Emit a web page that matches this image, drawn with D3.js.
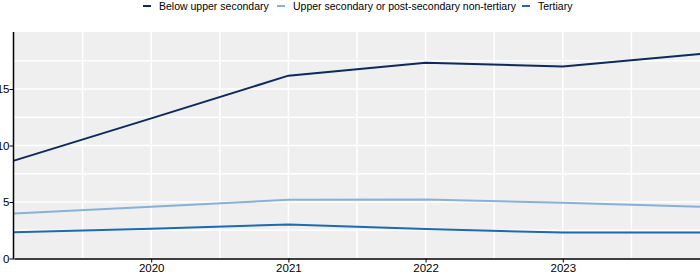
<!DOCTYPE html>
<html>
<head>
<meta charset="utf-8">
<script src="https://cdn.jsdelivr.net/npm/d3@7"></script>
<style>
  html, body { margin: 0; padding: 0; background: #fff; }
  svg { display: block; font-family: "Liberation Sans", Arial, sans-serif; }
</style>
</head>
<body>
<svg id="chart" width="700" height="272"></svg>
<script>
const years = [2019, 2020, 2021, 2022, 2023, 2024];
const seriesNames = ["Below upper secondary", "Upper secondary or post-secondary non-tertiary", "Tertiary"];
const belowUpperSecondary = [8.66, 12.4, 16.18, 17.33, 17.0, 18.1];
const upperSecondary = [3.99, 4.58, 5.2, 5.22, 4.93, 4.58];
const tertiary = [2.32, 2.64, 3.0, 2.62, 2.29, 2.29];
const xTickLabels = [2020, 2021, 2022, 2023];
const yTickLabels = [0, 5, 10, 15];
const yGridValues = [2.5, 5, 7.5, 10, 12.5, 15, 17.5];
const xGridValues = [2019.5, 2020, 2020.5, 2021, 2021.5, 2022, 2022.5, 2023, 2023.5];
const colors = ["#0c2a5e", "#88b0dd", "#1c6ab1"];

const series = [belowUpperSecondary, upperSecondary, tertiary];

const svg = d3.select("#chart");
const mLeft = 14, mRight = 700, mTop = 32, mBottom = 258.5;

const x = d3.scaleLinear().domain([2019, 2024]).range([mLeft, mRight]);
const y = d3.scaleLinear().domain([0, 20]).range([mBottom, mTop + 0.5]);

// background
svg.append("rect")
  .attr("x", mLeft).attr("y", mTop)
  .attr("width", mRight - mLeft).attr("height", mBottom - mTop)
  .attr("fill", "#efefef");

// grid
svg.append("g").selectAll("line").data(yGridValues).join("line")
  .attr("x1", mLeft).attr("x2", mRight)
  .attr("y1", d => y(d)).attr("y2", d => y(d))
  .attr("stroke", "#fff").attr("stroke-width", 1.5);
svg.append("g").selectAll("line").data(xGridValues).join("line")
  .attr("y1", mTop).attr("y2", mBottom)
  .attr("x1", d => x(d)).attr("x2", d => x(d))
  .attr("stroke", "#fff").attr("stroke-width", 1.5);

// lines
const line = d3.line().x((d, i) => x(years[i])).y(d => y(d));
svg.append("g").selectAll("path").data(series).join("path")
  .attr("d", d => line(d))
  .attr("fill", "none")
  .attr("stroke", (d, i) => colors[i])
  .attr("stroke-width", 2);

// axes
const xAxis = d3.axisBottom(x).tickValues(xTickLabels).tickFormat(d3.format("d")).tickSize(4).tickSizeOuter(0);
const gx = svg.append("g").attr("transform", `translate(0,${mBottom})`).call(xAxis);
gx.select(".domain").attr("stroke", "#000").attr("stroke-width", 1.5);
gx.selectAll(".tick line").attr("stroke", "#000");
gx.selectAll(".tick text").attr("font-size", 11.5).attr("fill", "#000").attr("y", 5).attr("dy", "0.71em")
  .attr("font-family", "'Liberation Sans', Arial, sans-serif");

const yAxis = d3.axisLeft(y).tickValues(yTickLabels).tickSize(4).tickSizeOuter(0);
const gy = svg.append("g").attr("transform", `translate(${mLeft - 0.5},0)`).call(yAxis);
gy.select(".domain").attr("stroke", "#000").attr("stroke-width", 1.5).attr("d", `M0,${mTop}V${mBottom + 0.75}`);
gy.selectAll(".tick line").attr("stroke", "#000");
gy.selectAll(".tick text").attr("font-size", 11.5).attr("fill", "#000").attr("x", -4)
  .attr("font-family", "'Liberation Sans', Arial, sans-serif");

// legend
const legendX = [143, 277, 522];
const lg = svg.append("g").selectAll("g").data(seriesNames).join("g")
  .attr("transform", (d, i) => `translate(${legendX[i]},6)`);
lg.append("line").attr("x1", 0).attr("x2", 8).attr("y1", 0).attr("y2", 0)
  .attr("stroke", (d, i) => colors[i]).attr("stroke-width", 2);
lg.append("text").attr("x", 16).attr("y", 0).attr("dy", "0.35em")
  .attr("font-size", 10.5).attr("fill", "#000").text(d => d);
</script>
</body>
</html>
